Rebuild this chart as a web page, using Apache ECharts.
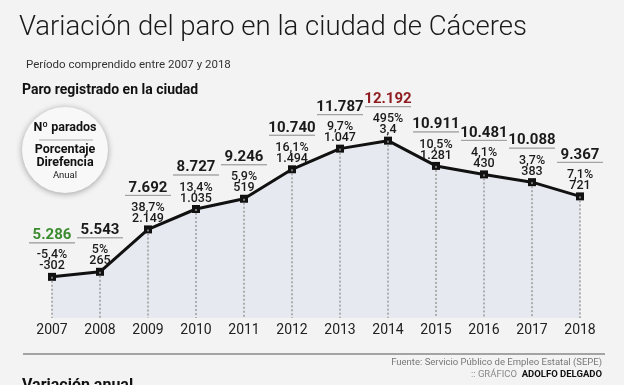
<!DOCTYPE html>
<html>
<head>
<meta charset="utf-8">
<script src="https://cdn.jsdelivr.net/npm/echarts@6/dist/echarts.min.js"></script>
<style>
html,body{margin:0;padding:0;background:#f3f3f3;}
#c{width:624px;height:385px;}
</style>
</head>
<body>
<div id="c"></div>
<script>
const years = ['2007','2008','2009','2010','2011','2012','2013','2014','2015','2016','2017','2018'];
const parados = [5286, 5543, 7692, 8727, 9246, 10740, 11787, 12192, 10911, 10481, 10088, 9367];
const porcentajes = ['-5,4%', '5%', '38,7%', '13,4%', '5,9%', '16,1%', '9,7%', '495%', '10,5%', '4,1%', '3,7%', '7,1%'];
const diferencias = ['-302', '265', '2.149', '1.035', '519', '1.494', '1.047', '3,4', '1.281', '430', '383', '721'];
const highlightLow = 0;   // 2007 in green
const highlightHigh = 7;  // 2014 in red

const FONT = "Roboto,'Liberation Sans',sans-serif";
const yMin = 3200, yMax = 14000;

function fmt(n){
  return String(n).replace(/\B(?=(\d{3})+(?!\d))/g, '.');
}

const chart = echarts.init(document.getElementById('c'), null, {renderer:'canvas'});
const option = {
  backgroundColor: '#f3f3f3',
  animation: false,
  textStyle: {fontFamily: FONT},
  title: [
    {text: 'Variación del paro en la ciudad de Cáceres', left: 14, top: 9,
     textStyle: {fontFamily: FONT, fontSize: 27.5, fontWeight: 300, color: '#1a1a1a'}},
    {text: 'Período comprendido entre 2007 y 2018', left: 21, top: 54,
     textStyle: {fontFamily: FONT, fontSize: 11.5, fontWeight: 'normal', color: '#333'}},
    {text: 'Paro registrado en la ciudad', left: 17, top: 78,
     textStyle: {fontFamily: FONT, fontSize: 14, fontWeight: 'bold', color: '#111'}},
    {text: 'Variación anual', left: 17, top: 373,
     textStyle: {fontFamily: FONT, fontSize: 16, fontWeight: 'bold', color: '#111'}}
  ],
  grid: {left: 28, right: 20, top: 105, bottom: 67},
  xAxis: {
    type: 'category', data: years, boundaryGap: true,
    axisLine: {show: false}, axisTick: {show: false}, splitLine: {show: false},
    axisLabel: {margin: 5, fontFamily: FONT, fontSize: 14, color: '#222'}
  },
  yAxis: {type: 'value', min: yMin, max: yMax, show: false, splitLine: {show: false}},
  series: [{
    type: 'line',
    data: parados,
    symbol: 'rect',
    symbolSize: 8,
    itemStyle: {color: '#111'},
    lineStyle: {color: '#111', width: 3},
    areaStyle: {color: '#e6e9ef', opacity: 1, origin: 'start'},
    label: {
      show: true, position: 'top', distance: 1,
      formatter: function(p){
        const i = p.dataIndex;
        const key = i === highlightLow ? 'g' : (i === highlightHigh ? 'r' : 'a');
        return '{' + key + '|' + fmt(parados[i]) + '}\n{hr|}\n{s|}\n{b|' + porcentajes[i] + '}\n{b|' + diferencias[i] + '}';
      },
      rich: {
        a: {fontFamily: FONT, fontSize: 15, fontWeight: 'bold', color: '#1a1a1a', lineHeight: 15, align: 'center'},
        g: {fontFamily: FONT, fontSize: 15, fontWeight: 'bold', color: '#3b8b2f', lineHeight: 15, align: 'center'},
        r: {fontFamily: FONT, fontSize: 15, fontWeight: 'bold', color: '#8e1c1f', lineHeight: 15, align: 'center'},
        hr: {width: 46, height: 0, lineHeight: 0, borderColor: '#9a9a9a', borderWidth: 0.8, align: 'center'},
        s: {height: 0, lineHeight: 7},
        b: {fontFamily: FONT, fontSize: 12.5, fontWeight: 500, color: '#1a1a1a', lineHeight: 11, align: 'center'}
      }
    },
    markLine: {
      silent: true,
      symbol: ['none', 'none'],
      label: {show: false},
      lineStyle: {color: '#9a9a9a', type: [2, 2], width: 1.5},
      data: years.map((y, i) => [{coord: [y, parados[i]]}, {coord: [y, yMin]}])
    },
    z: 3
  }],
  graphic: [
    {type: 'circle', shape: {cx: 65, cy: 150, r: 43},
     style: {fill: '#f8f8f8', shadowBlur: 6, shadowColor: 'rgba(0,0,0,0.35)', shadowOffsetY: 1}, z: 10},
    {type: 'text', x: 65, y: 128, style: {text: 'Nº parados', fontFamily: FONT, fontSize: 12.5, fontWeight: 'bold', fill: '#111', align: 'center', verticalAlign: 'middle'}, z: 11},
    {type: 'line', shape: {x1: 39, y1: 140, x2: 93, y2: 140}, style: {stroke: '#999', lineWidth: 0.8}, z: 11},
    {type: 'text', x: 65, y: 150, style: {text: 'Porcentaje', fontFamily: FONT, fontSize: 12.5, fontWeight: 'bold', fill: '#111', align: 'center', verticalAlign: 'middle'}, z: 11},
    {type: 'text', x: 65, y: 163, style: {text: 'Direfencia', fontFamily: FONT, fontSize: 12.5, fontWeight: 'bold', fill: '#111', align: 'center', verticalAlign: 'middle'}, z: 11},
    {type: 'text', x: 65, y: 176, style: {text: 'Anual', fontFamily: FONT, fontSize: 9.5, fill: '#222', align: 'center', verticalAlign: 'middle'}, z: 11},
    {type: 'line', shape: {x1: 23, y1: 354, x2: 605, y2: 354}, style: {stroke: '#555', lineWidth: 1}},
    {type: 'text', x: 602, y: 363, style: {text: 'Fuente: Servicio Público de Empleo Estatal (SEPE)', fontFamily: FONT, fontSize: 9.5, fill: '#777', align: 'right', verticalAlign: 'middle'}},
    {type: 'text', x: 602, y: 375, style: {
      text: '{g|:: GRÁFICO  }{k|ADOLFO DELGADO}', align: 'right', verticalAlign: 'middle',
      rich: {g: {fontFamily: FONT, fontSize: 9.5, fill: '#888'}, k: {fontFamily: FONT, fontSize: 9.5, fontWeight: 'bold', fill: '#111'}}
    }}
  ]
};
chart.setOption(option);
</script>
</body>
</html>
